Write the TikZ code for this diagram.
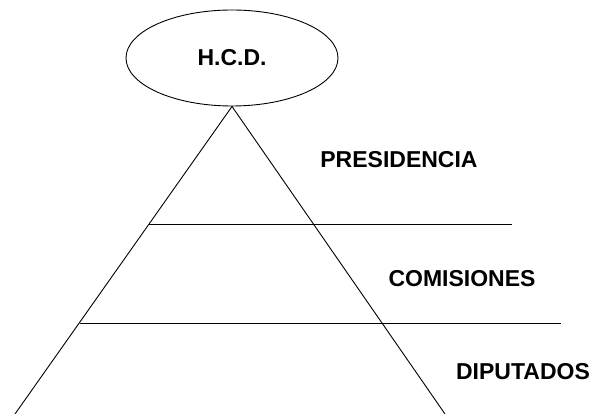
\documentclass[tikz,border=0pt]{standalone}
\usepackage{fontspec}
\setmainfont{Liberation Sans}
\usetikzlibrary{shapes.geometric}

\begin{document}
\begin{tikzpicture}[x=1pt, y=-1pt, align=center,
    lbl/.style={font=\fontsize{23}{26}\selectfont\bfseries, inner sep=0},
    ln/.style={line width=0.9pt}]
      \useasboundingbox (0,0) rectangle (600,414);

      \node[draw, ln, ellipse, minimum width=212pt, minimum height=96pt, inner sep=0,
            font=\fontsize{23}{26}\selectfont\bfseries] (HCD) at (232,58) {H.C.D.};

      \coordinate (L) at (15,414);
      \coordinate (R) at (445,414);
      \coordinate (P1) at (149,224);
      \coordinate (P2) at (512,224);
      \coordinate (C1) at (80,323);
      \coordinate (C2) at (561,323);

      \node[lbl] (pres) at (399,160) {PRESIDENCIA};
      \node[lbl] (com) at (462,279) {COMISIONES};
      \node[lbl] (dip) at (523,372) {DIPUTADOS};

      \draw[ln] (L) -- (HCD.south) -- (R);
      \draw[ln] (P1) -- (P2);
      \draw[ln] (C1) -- (C2);
    \end{tikzpicture}
\end{document}
